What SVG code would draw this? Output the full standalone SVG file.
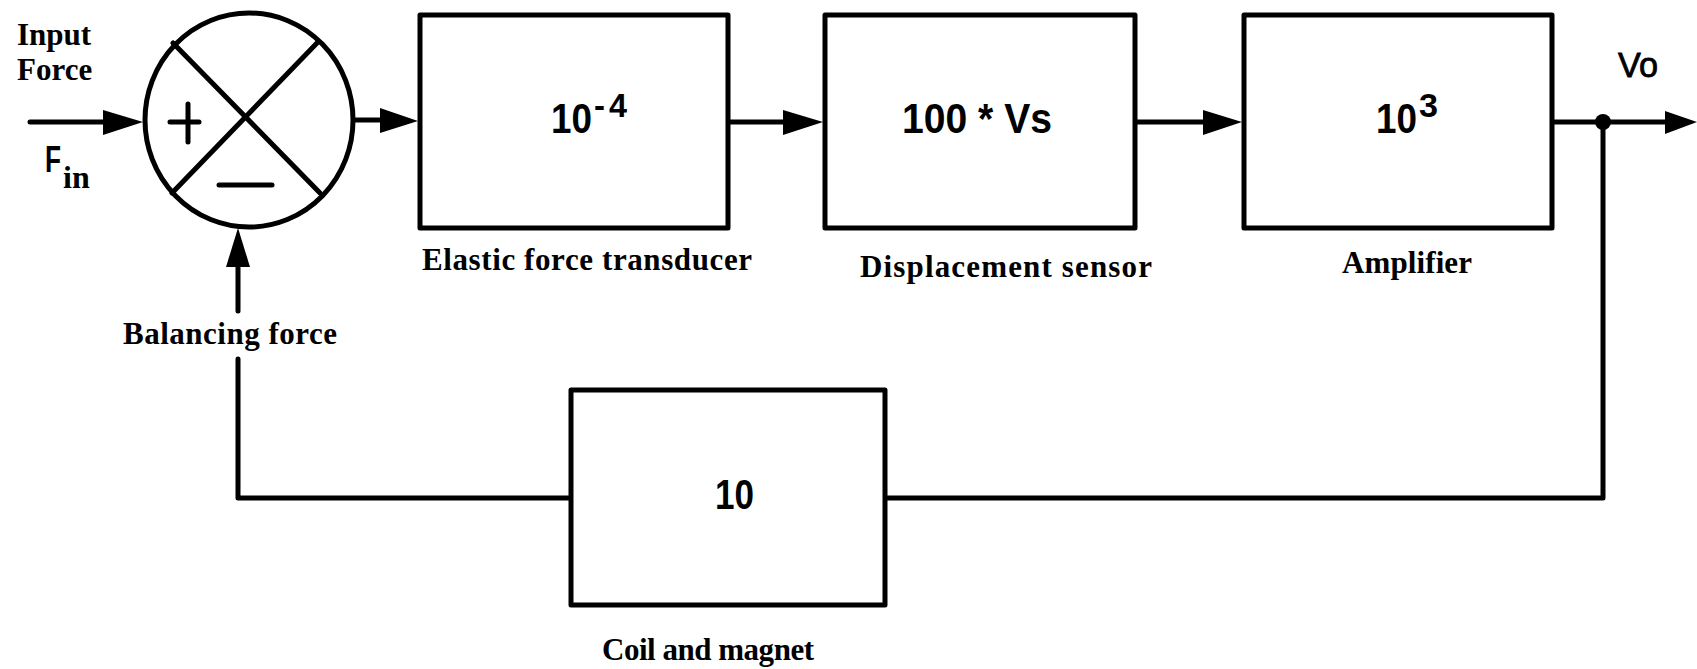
<svg xmlns="http://www.w3.org/2000/svg" width="1697" height="669" viewBox="0 0 1697 669">
<style>
.box{fill:#fff;stroke:#000;stroke-width:5;stroke-linejoin:round}
.ln{fill:none;stroke:#000;stroke-width:5;stroke-linecap:round;stroke-linejoin:round}
.big{font-family:"Liberation Sans",Arial,sans-serif;font-weight:bold;font-size:43px;fill:#000}
.sup{font-size:33px}
.lbl{font-family:"Liberation Serif","Times New Roman",serif;font-weight:bold;font-size:31px;fill:#000}
.serif{font-family:"Liberation Serif","Times New Roman",serif}
.sans{font-family:"Liberation Sans",Arial,sans-serif;fill:#000}
.head{fill:#000}
</style>
<rect width="1697" height="669" fill="#fff"/>
<g id="connectors">
  <path class="ln" d="M30,122 H108"/>
  <polygon class="head" points="103,110 143,122 103,135"/>
  <path class="ln" d="M353,120 H385"/>
  <polygon class="head" points="380,108 418,121 380,133"/>
  <path class="ln" d="M728,122 H788"/>
  <polygon class="head" points="783,110 823,122 783,135"/>
  <path class="ln" d="M1135,122 H1208"/>
  <polygon class="head" points="1203,110 1242,122 1203,135"/>
  <path class="ln" d="M1552,122 H1670"/>
  <polygon class="head" points="1665,111 1697,122 1665,134"/>
  <circle cx="1603" cy="122" r="8" fill="#000"/>
  <path class="ln" d="M1603,122 V498 H885"/>
  <path class="ln" d="M571,498 H238 V359"/>
  <path class="ln" d="M238,311 V262"/>
  <polygon class="head" points="226,267 238,228 250,267"/>
</g>
<g id="sum">
  <ellipse cx="249" cy="120" rx="104" ry="107" fill="#fff" stroke="#000" stroke-width="5"/>
  <path class="ln" d="M173,43 L320,193 M317,43 L172,193"/>
  <path class="ln" d="M170,122 H199 M188,104 V142"/>
  <path class="ln" d="M219,185 H272" stroke-width="6"/>
</g>
<g id="input-label">
  <text class="lbl" x="17" y="45">Input</text>
  <text class="lbl" x="17" y="80">Force</text>
  <text class="sans" x="45" y="172" font-size="37" font-weight="bold"><tspan textLength="16" lengthAdjust="spacingAndGlyphs">F</tspan><tspan class="serif" x="63" y="188" font-size="32">in</tspan></text>
</g>
<g id="balancing-label">
  <text class="lbl" x="123" y="344" textLength="214" lengthAdjust="spacing">Balancing force</text>
</g>
<g id="elastic">
  <rect class="box" x="420" y="15" width="308" height="213"/>
  <text class="big" x="551" y="133"><tspan textLength="41" lengthAdjust="spacingAndGlyphs">10</tspan><tspan class="sup" x="594" y="117">-</tspan><tspan class="sup" x="609" y="117" textLength="18" lengthAdjust="spacingAndGlyphs">4</tspan></text>
  <text class="lbl" x="422" y="270" textLength="330" lengthAdjust="spacing">Elastic force transducer</text>
</g>
<g id="displacement">
  <rect class="box" x="825" y="15" width="310" height="213"/>
  <text class="big" x="902" y="133" textLength="150" lengthAdjust="spacingAndGlyphs">100 * Vs</text>
  <text class="lbl" x="860" y="277" textLength="292" lengthAdjust="spacing">Displacement sensor</text>
</g>
<g id="amplifier">
  <rect class="box" x="1244" y="15" width="308" height="213"/>
  <text class="big" x="1376" y="133"><tspan textLength="41" lengthAdjust="spacingAndGlyphs">10</tspan><tspan class="sup" x="1419" y="117" textLength="19" lengthAdjust="spacingAndGlyphs">3</tspan></text>
  <text class="lbl" x="1342" y="273" textLength="130" lengthAdjust="spacing">Amplifier</text>
</g>
<g id="output">
  <text class="sans" x="1618" y="77" font-size="35" stroke="#000" stroke-width="0.8" textLength="40" lengthAdjust="spacingAndGlyphs">Vo</text>
</g>
<g id="coil">
  <rect class="box" x="571" y="390" width="314" height="215"/>
  <text class="big" x="715" y="509" textLength="39" lengthAdjust="spacingAndGlyphs">10</text>
  <text class="lbl" x="602" y="660" textLength="212" lengthAdjust="spacing">Coil and magnet</text>
</g>
</svg>
